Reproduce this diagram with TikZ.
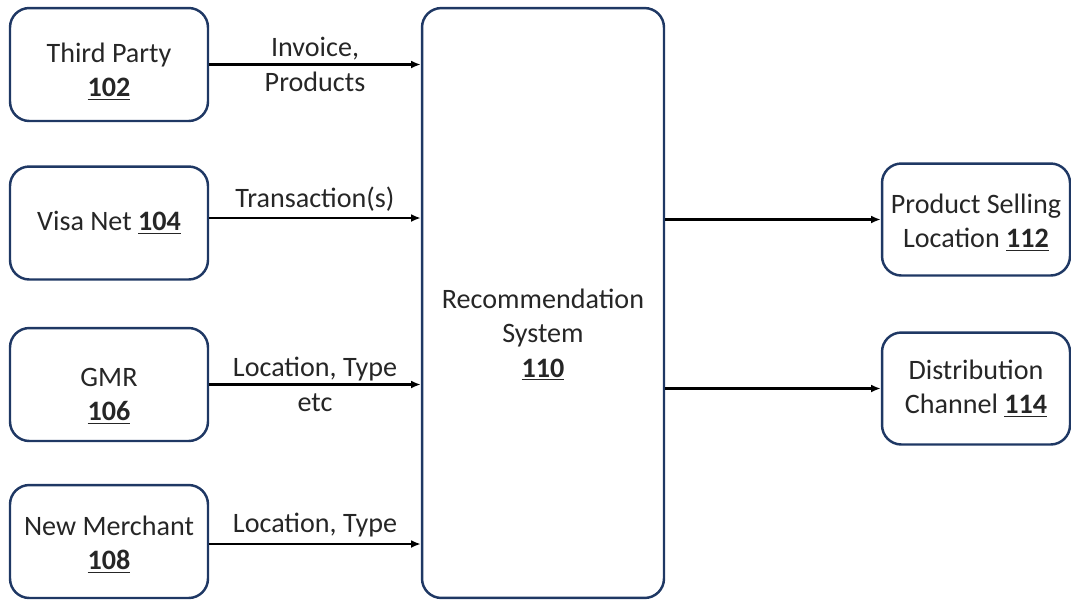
\documentclass[tikz,border=0pt]{standalone}
\usepackage{fontspec}
\setmainfont{Carlito}
\usetikzlibrary{arrows.meta}
\definecolor{boxline}{HTML}{1F3864}
\definecolor{txt}{HTML}{262626}
\newcommand{\partno}[1]{\underline{\textbf{#1}}}

\begin{document}
\begin{tikzpicture}[x=0.02cm,y=-0.02cm,
  block/.style={draw=boxline, line width=1.4pt, rounded corners=11pt, align=center, text=txt, font=\fontsize{16}{19.5}\selectfont},
  src/.style={block, minimum width=3.96cm, minimum height=2.26cm},
  dst/.style={block, minimum width=3.76cm, minimum height=2.24cm},
  flow/.style={-{Latex[length=5.5pt,width=4.5pt]}, line width=1.2pt},
  lbl/.style={align=center, text=txt, font=\fontsize{16}{19.5}\selectfont}]
\useasboundingbox (0,0) rectangle (1071,600);
% sources
\node[src, label={[lbl, yshift=-0.14cm]center:Third Party\\\partno{102}}] (tp) at (109,64.5) {};
\node[src] (vn) at (109,223) {Visa Net \partno{104}};
\node[src, label={[lbl, yshift=-0.24cm]center:GMR\\\partno{106}}] (gmr) at (109,384.5) {};
\node[src, label={[lbl, yshift=-0.06cm]center:New Merchant\\\partno{108}}] (nm) at (109,541.5) {};
% recommendation system
\node[block, minimum width=4.84cm, minimum height=11.8cm,
  label={[lbl, yshift=-0.64cm]center:Recommendation\\System\\\partno{110}}] (rs) at (543,303) {};
% outputs
\node[dst, label={[lbl, yshift=-0.06cm]center:Product Selling\\Location \partno{112}}] (psl) at (976,219.5) {};
\node[dst] (dc) at (976,388.5) {Distribution\\Channel \partno{114}};
% connectors
\draw[flow] (tp.east) -- (tp.east -| rs.west) node[lbl, midway] {Invoice,\\Products};
\draw[flow] ([yshift=0.1cm]vn.east) -- ([yshift=0.1cm]vn.east -| rs.west) node[lbl, midway, above] {Transaction(s)};
\draw[flow] (gmr.east) -- (gmr.east -| rs.west) node[lbl, midway] {Location, Type\\etc};
\draw[flow] ([yshift=-0.05cm]nm.east) -- ([yshift=-0.05cm]nm.east -| rs.west) node[lbl, midway, above] {Location, Type};
\draw[flow] (rs.east |- psl.west) -- (psl.west);
\draw[flow] (rs.east |- dc.west) -- (dc.west);
\end{tikzpicture}
\end{document}
